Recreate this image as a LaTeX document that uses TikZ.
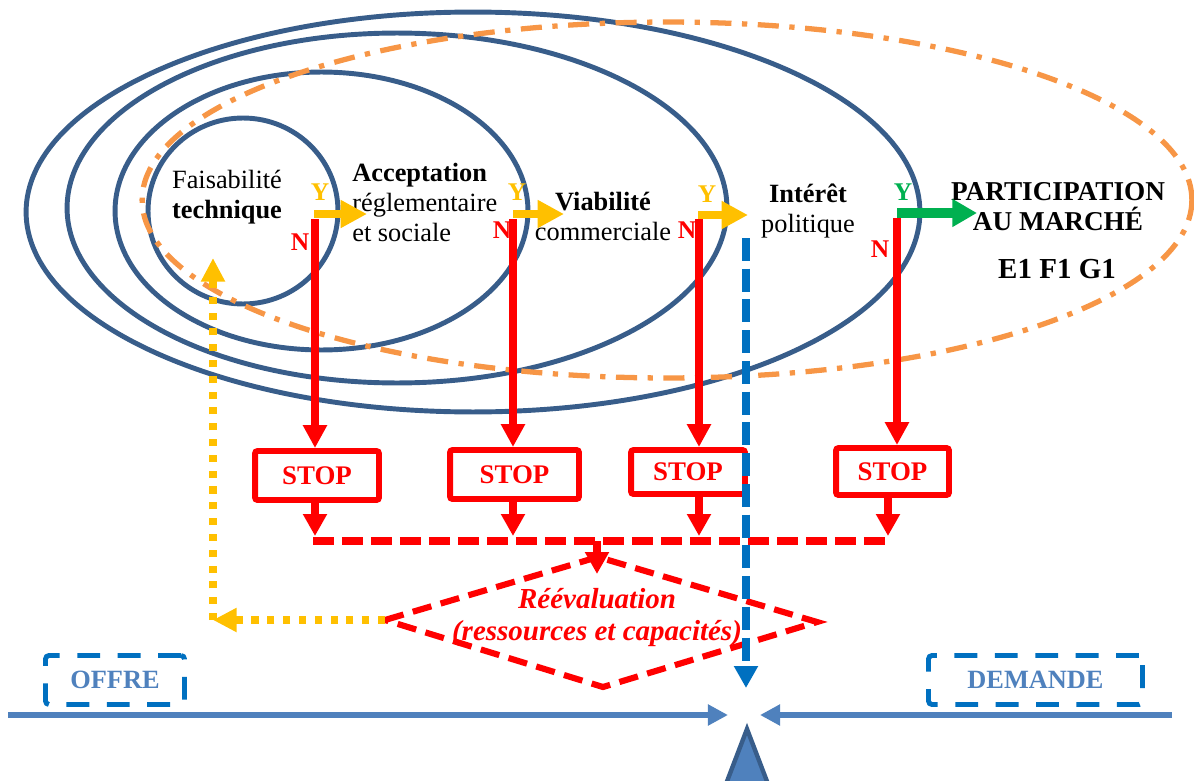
\documentclass[tikz,border=0pt]{standalone}
\usepackage{fontspec}
\setmainfont{Liberation Serif}
\usetikzlibrary{arrows.meta}
\definecolor{ellblue}{RGB}{56,93,138}
\definecolor{dashorange}{RGB}{247,150,70}
\definecolor{yel}{RGB}{255,192,0}
\definecolor{grn}{RGB}{0,176,80}
\definecolor{bluedash}{RGB}{0,112,192}
\definecolor{steel}{RGB}{79,129,189}
\tikzset{
 ell/.style={draw=ellblue, line width=2.8pt},
 orangedd/.style={draw=dashorange, line width=3pt, dash pattern=on 12pt off 6pt on 3pt off 6pt},
 txt/.style={font=\fontsize{15}{17}\selectfont, inner sep=0pt},
 yn/.style={font=\fontsize{14.5}{17}\selectfont\bfseries, inner sep=0pt, anchor=base},
 yarrow/.style={draw=yel, line width=4.5pt, -{Triangle[length=15pt,width=15pt]}},
 garrow/.style={draw=grn, line width=5.5pt, -{Triangle[length=14pt,width=15pt]}},
 noarrow/.style={draw=red, line width=4.2pt, -{Triangle[length=13pt,width=13pt]}},
 stoparrow/.style={draw=red, line width=4.4pt, -{Triangle[length=12.5pt,width=13pt]}},
 stopbox/.style={draw=red, line width=3.4pt, rounded corners=1.5pt, text=red, font=\fontsize{15.3}{17}\selectfont\bfseries, inner sep=0pt},
 reddash/.style={draw=red, line width=4pt, dash pattern=on 12pt off 4.5pt},
 diam/.style={draw=red, line width=3.5pt, dash pattern=on 11pt off 5.5pt},
 ydot/.style={draw=yel, line width=4pt, dash pattern=on 4pt off 5pt, -{Triangle[length=13.5pt,width=13pt]}},
 bdash/.style={draw=bluedash, line width=4.4pt, dash pattern=on 13pt off 4.5pt, -{Triangle[length=12.5pt,width=13pt]}},
 harrow/.style={draw=steel, line width=3.8pt, -{Triangle[length=11.5pt,width=11.5pt]}},
 mbox/.style={draw=bluedash, line width=2.8pt, dash pattern=on 13pt off 10pt, rounded corners=2pt, text=steel, font=\fontsize{15}{17}\selectfont\bfseries, inner sep=0pt, text depth=-4pt},
}
\begin{document}
\begin{tikzpicture}[x=0.02cm,y=-0.02cm]
\useasboundingbox (0,0) rectangle (1194,781);
% nested ellipses
\draw[ell] (243,211) ellipse [x radius=1.9cm, y radius=1.86cm];
\draw[ell] (321.5,211) ellipse [x radius=4.13cm, y radius=2.78cm];
\draw[ell] (397,208) ellipse [x radius=6.6cm, y radius=3.5cm];
\draw[ell] (473,212) ellipse [x radius=8.94cm, y radius=4cm];
\draw[orangedd] (667,200) ellipse [x radius=10.5cm, y radius=3.56cm];

% texts (base anchor = baseline of last line)
\node[txt, anchor=base, align=center] (faisa) at (227,218) {Faisabilité\\\textbf{technique}};
\node[txt, anchor=base west, align=left] (accept) at (352,241) {\textbf{Acceptation}\\réglementaire\\et sociale};
\node[txt, anchor=base, align=center] (viab) at (603,240) {\textbf{Viabilité}\\commerciale};
\node[txt, anchor=base, align=center] (interet) at (808,232) {\textbf{Intérêt}\\politique};
\node[txt, anchor=base, align=center, font=\fontsize{15.5}{17}\selectfont\bfseries] (partic) at (1058,230) {PARTICIPATION\\AU MARCHÉ};
\node[txt, anchor=base, font=\fontsize{16.5}{17}\selectfont\bfseries] (efg) at (1057,278) {E1 F1 G1};

\node[yn, text=yel] (Y1) at (320,200) {Y};
\node[yn, text=yel] (Y2) at (517,200) {Y};
\node[yn, text=yel] (Y3) at (707,202) {Y};
\node[yn, text=grn] (Y4) at (903,200) {Y};
\node[yn, text=red] (N1) at (300,250) {N};
\node[yn, text=red] (N2) at (502,238) {N};
\node[yn, text=red] (N3) at (687,238) {N};
\node[yn, text=red] (N4) at (880,257) {N};

% STOP boxes
\node[stopbox, minimum width=2.48cm, minimum height=0.98cm] (stop1) at (317,475.5) {STOP};
\node[stopbox, minimum width=2.58cm, minimum height=0.98cm] (stop2) at (514.5,474.5) {STOP};
\node[stopbox, minimum width=2.28cm, minimum height=0.88cm] (stop3) at (688,472) {STOP};
\node[stopbox, minimum width=2.26cm, minimum height=0.94cm] (stop4) at (892.5,471.5) {STOP};

% decision coordinates
\coordinate (a1) at (314,214); \coordinate (b1) at (367,214);
\coordinate (a2) at (513,214); \coordinate (b2) at (564,214);
\coordinate (a3) at (698,215); \coordinate (b3) at (748,215);
\coordinate (a4) at (897,213); \coordinate (b4) at (977,213);
\coordinate (n1) at (315,219); \coordinate (n2) at (513,219);
\coordinate (n3) at (699,219); \coordinate (n4) at (897,218);
\coordinate (n5) at (888,0);
\coordinate (hl) at (0,536);
\coordinate (hs) at (313,541); \coordinate (he) at (891,541);
\coordinate (hm) at (597,541); \coordinate (rin) at (597,574);

% diamond
\coordinate (dl) at (385,620); \coordinate (dt) at (598,557);
\coordinate (dr) at (817,622); \coordinate (db) at (603,687);
\draw[diam] (dl) -- (dt) -- (dr) -- (db) -- cycle;
\node[inner sep=0pt, anchor=base, align=center, text=red, font=\fontsize{16.5}{18}\selectfont\bfseries\itshape] (reeval) at (597,640) {Réévaluation\\(ressources et capacités)};

% NO branches
\draw[noarrow] (n1) -- (n1 |- stop1.north);
\draw[noarrow] (n2) -- (n2 |- stop2.north);
\draw[noarrow] (n3) -- (n3 |- stop3.north);
\draw[noarrow] (n4) -- (n4 |- stop4.north);
% YES branches
\draw[yarrow] (a1) -- (b1);
\draw[yarrow] (a2) -- (b2);
\draw[yarrow] (a3) -- (b3);
\draw[garrow] (a4) -- (b4);

% from STOP to re-evaluation
\draw[stoparrow] (stop1.south -| n1) -- (hl -| n1);
\draw[stoparrow] (stop2.south -| n2) -- (hl -| n2);
\draw[stoparrow] (stop3.south -| n3) -- (hl -| n3);
\draw[stoparrow] (stop4.south -| n5) -- (hl -| n5);
\draw[reddash] (hs) -- (he);
\draw[stoparrow] (hm) -- (rin);

% feedback
\coordinate (yc) at (213,620); \coordinate (yt) at (213,258);
\draw[ydot] (dl) -- (yc);
\draw[ydot] (yc) -- (yt);

% market balance
\coordinate (bt) at (746,238); \coordinate (bb) at (746,688);
\draw[bdash] (bt) -- (bb);
\coordinate (hl0) at (8,715); \coordinate (fl) at (728,715);
\coordinate (hr0) at (1172,715); \coordinate (fr) at (760,715);
\draw[harrow] (hl0) -- (fl);
\draw[harrow] (hr0) -- (fr);
\coordinate (ta) at (747,729); \coordinate (tb) at (768,784); \coordinate (tc) at (726,784);
\draw[fill=steel, draw=ellblue, line width=2.5pt, line join=miter] (ta) -- (tb) -- (tc) -- cycle;

\node[mbox, minimum width=2.78cm, minimum height=0.98cm] (offre) at (115,680) {OFFRE};
\node[mbox, minimum width=4.28cm, minimum height=0.98cm] (demande) at (1035.5,680) {DEMANDE};
\end{tikzpicture}
\end{document}
